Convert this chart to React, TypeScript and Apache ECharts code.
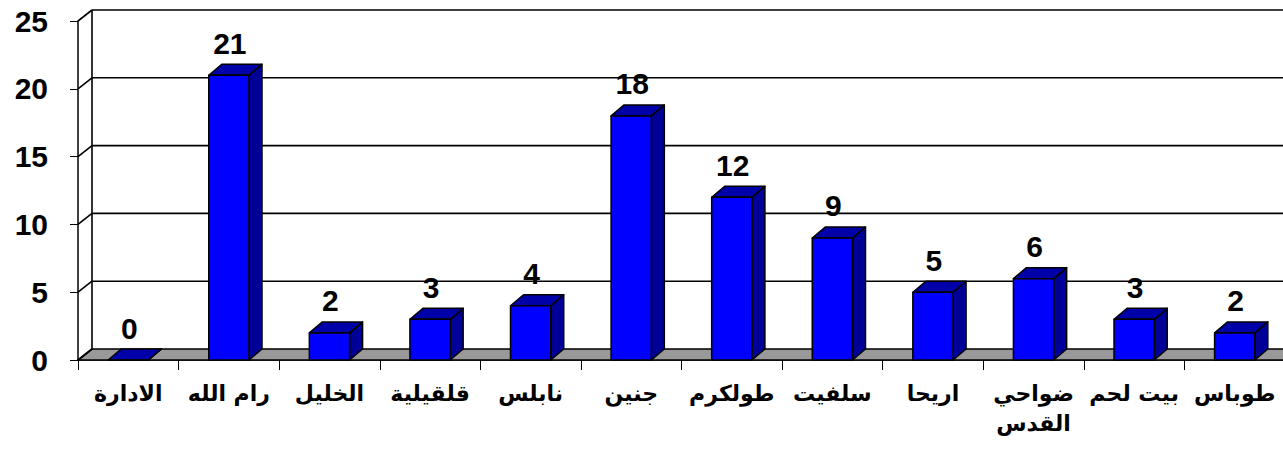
import React, { useEffect, useRef } from "react";
import * as echarts from "echarts";

const categories = [
  "الادارة",
  "رام الله",
  "الخليل",
  "قلقيلية",
  "نابلس",
  "جنين",
  "طولكرم",
  "سلفيت",
  "اريحا",
  "ضواحي القدس",
  "بيت لحم",
  "طوباس",
];
const values = [0, 21, 2, 3, 4, 18, 12, 9, 5, 6, 3, 2];
const yTicks = [0, 5, 10, 15, 20, 25];

const DX = 14;
const DY = -11;

export default function App() {
  const ref = useRef<HTMLDivElement>(null);
  useEffect(() => {
    if (!ref.current) return;
    const chart = echarts.init(ref.current, null, { renderer: "svg" });
    const yMax = yTicks[yTicks.length - 1];
    chart.setOption({
      animation: false,
      backgroundColor: "#ffffff",
      grid: {
        left: 78,
        top: 21,
        width: 1207,
        height: 339,
        containLabel: false,
        outerBoundsMode: "none",
      },
      xAxis: {
        type: "category",
        data: categories,
        axisLine: { show: true, lineStyle: { color: "#000", width: 1.5 } },
        axisTick: { show: true, length: 10, lineStyle: { color: "#000", width: 1 } },
        axisLabel: {
          color: "#000",
          fontFamily: "DejaVu Sans",
          fontWeight: "bold",
          fontSize: 22,
          margin: 18,
          interval: 0,
          lineHeight: 30,
          formatter: (v: string) => (v.length > 9 ? v.replace(" ", "\n") : v),
        },
        splitLine: { show: false },
      },
      yAxis: {
        type: "value",
        min: 0,
        max: yMax,
        interval: 5,
        axisLine: { show: true, lineStyle: { color: "#000", width: 1.5 } },
        axisTick: { show: true, length: 8, lineStyle: { color: "#000", width: 1 } },
        axisLabel: {
          color: "#000",
          fontFamily: "Liberation Sans",
          fontWeight: "bold",
          fontSize: 30,
          margin: 30,
        },
        splitLine: { show: false },
      },
      series: [
        {
          type: "custom",
          z: 1,
          data: yTicks.map((v) => [0, v]),
          encode: { x: 0, y: 1 },
          renderItem: (params: any, api: any) => {
            const v = api.value(1);
            const cs = params.coordSys;
            const y = api.coord([0, v])[1];
            const y0 = api.coord([0, 0])[1];
            const x0 = cs.x;
            const x1 = cs.x + cs.width;
            const lineStyle = { stroke: "#000", lineWidth: 1.6 };
            const children: any[] = [];
            if (v === 0) {
              children.push({
                type: "polygon",
                shape: {
                  points: [
                    [x0, y],
                    [x1 + 20, y],
                    [x1 + 20 + DX, y + DY],
                    [x0 + DX, y + DY],
                  ],
                },
                style: { fill: "#999999", stroke: "#000", lineWidth: 1.6 },
              });
            } else {
              children.push({
                type: "line",
                shape: { x1: x0 + DX, y1: y + DY, x2: x1 + 40, y2: y + DY },
                style: lineStyle,
              });
            }
            children.push({
              type: "line",
              shape: { x1: x0, y1: y, x2: x0 + DX, y2: y + DY },
              style: lineStyle,
            });
            if (v === yMax) {
              children.push({
                type: "line",
                shape: { x1: x0 + DX, y1: y + DY, x2: x0 + DX, y2: y0 + DY },
                style: lineStyle,
              });
            }
            return { type: "group", children };
          },
        },
        {
          type: "custom",
          z: 2,
          data: values.map((v, i) => [i, v]),
          encode: { x: 0, y: 1 },
          renderItem: (params: any, api: any) => {
            const i = api.value(0);
            const v = api.value(1);
            const top = api.coord([i, v]);
            const base = api.coord([i, 0]);
            const bw = api.size([1, 0])[0] * 0.4;
            const xl = top[0] - bw / 2;
            const xr = top[0] + bw / 2;
            const yt = top[1];
            const yb = base[1];
            const bdx = 13;
            const bdy = -11;
            const stroke = { stroke: "#000", lineWidth: 1.5, lineJoin: "round" };
            return {
              type: "group",
              children: [
                {
                  type: "polygon",
                  shape: {
                    points: [
                      [xr, yt],
                      [xr + bdx, yt + bdy],
                      [xr + bdx, yb + bdy],
                      [xr, yb],
                    ],
                  },
                  style: { fill: "#000099", ...stroke },
                },
                {
                  type: "polygon",
                  shape: {
                    points: [
                      [xl, yt],
                      [xr, yt],
                      [xr + bdx, yt + bdy],
                      [xl + bdx, yt + bdy],
                    ],
                  },
                  style: { fill: "#0000A8", ...stroke },
                },
                {
                  type: "rect",
                  shape: { x: xl, y: yt, width: bw, height: yb - yt },
                  style: { fill: "#0000FF", ...stroke },
                },
                {
                  type: "text",
                  style: {
                    text: String(v),
                    x: top[0] + 1,
                    y: yt + bdy - 6,
                    align: "center",
                    verticalAlign: "bottom",
                    fill: "#000",
                    font: "bold 30px 'Liberation Sans', Arial, sans-serif",
                  },
                },
              ],
            };
          },
        },
      ],
    });
    return () => chart.dispose();
  }, []);
  return (
    <div
      ref={ref}
      style={{ position: "fixed", left: 0, top: 0, width: 1283, height: 450 }}
    />
  );
}
